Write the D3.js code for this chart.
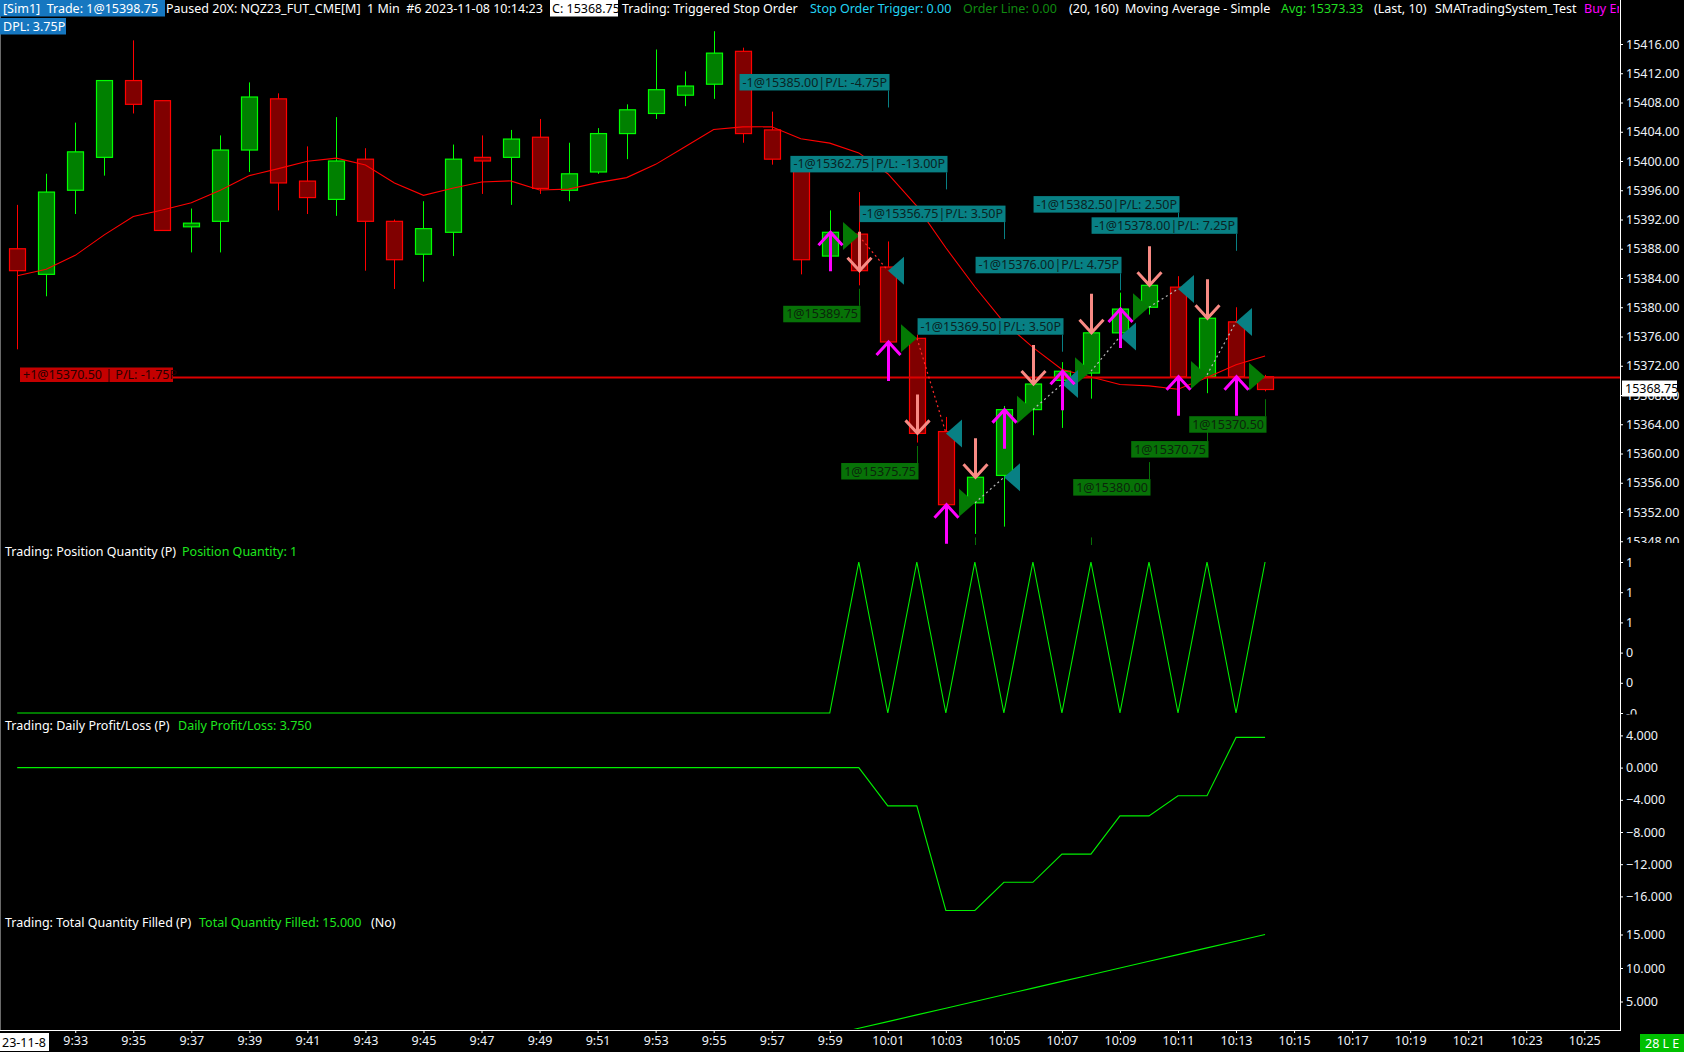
<!DOCTYPE html>
<html><head><meta charset="utf-8">
<script src="https://cdn.jsdelivr.net/npm/d3@7"></script>
<style>
html,body{margin:0;padding:0;background:#000;overflow:hidden}
svg{display:block}
text{font-family:"Noto Sans","DejaVu Sans",sans-serif;white-space:pre}
</style></head><body>
<svg id="c" width="1684" height="1052"></svg>
<script>
// ---------------- DATA ----------------
const times = ["9:31","9:32","9:33","9:34","9:35","9:36","9:37","9:38","9:39","9:40",
"9:41","9:42","9:43","9:44","9:45","9:46","9:47","9:48","9:49","9:50",
"9:51","9:52","9:53","9:54","9:55","9:56","9:57","9:58","9:59","10:00",
"10:01","10:02","10:03","10:04","10:05","10:06","10:07","10:08","10:09","10:10",
"10:11","10:12","10:13","10:14"];
const open = [15388.00,15384.50,15396.00,15400.50,15411.00,15408.25,15391.00,15391.75,15401.50,15408.50,
15397.25,15394.75,15400.25,15391.75,15387.25,15390.25,15400.50,15400.50,15403.25,15396.00,
15398.50,15403.75,15406.50,15409.00,15410.50,15415.00,15404.25,15400.00,15387.00,15390.00,
15385.50,15375.75,15363.00,15353.25,15357.00,15366.00,15370.00,15371.00,15376.50,15380.00,
15382.75,15370.50,15378.00,15370.50];
const high = [15394.00,15398.25,15405.25,15411.00,15416.50,15408.25,15393.50,15403.50,15410.75,15409.25,
15402.00,15406.00,15401.75,15392.00,15394.50,15402.25,15403.50,15404.25,15405.75,15402.50,
15404.50,15407.75,15415.25,15412.25,15417.75,15415.50,15406.75,15400.25,15393.25,15395.75,
15389.00,15376.25,15365.00,15357.50,15366.50,15371.00,15372.50,15377.50,15382.00,15384.50,
15384.25,15379.50,15380.00,15370.75];
const low = [15374.25,15381.50,15392.75,15398.00,15406.50,15390.50,15387.50,15387.50,15398.50,15393.25,
15392.75,15392.50,15385.00,15382.50,15383.50,15387.00,15395.50,15394.00,15395.50,15394.50,
15398.25,15400.25,15405.75,15407.50,15408.50,15402.50,15399.50,15384.50,15385.50,15383.00,
15374.50,15361.50,15351.50,15349.00,15350.00,15362.50,15363.50,15367.50,15375.50,15379.00,
15369.50,15368.25,15369.75,15368.50];
const close = [15385.00,15395.75,15401.25,15411.00,15407.75,15390.50,15391.50,15401.50,15408.75,15397.00,
15395.00,15400.00,15391.75,15386.50,15390.75,15400.25,15400.00,15403.00,15396.25,15398.25,
15403.75,15407.00,15409.75,15410.25,15414.75,15403.75,15400.25,15386.50,15390.25,15385.00,
15375.25,15362.75,15353.00,15356.75,15366.00,15369.50,15371.25,15376.50,15379.75,15383.00,
15370.50,15378.50,15370.50,15368.75];
const sma10 = [15384.30,15385.20,15387.10,15389.90,15392.40,15393.30,15394.30,15396.00,15398.00,15398.96,
15399.96,15400.39,15399.45,15397.00,15395.30,15396.28,15397.13,15397.28,15396.03,15396.15,
15397.04,15397.73,15399.54,15401.91,15404.31,15404.66,15404.68,15403.04,15402.44,15401.11,
15398.26,15393.83,15388.13,15382.80,15377.93,15374.52,15371.49,15370.47,15369.43,15369.25,
15368.78,15370.38,15372.14,15373.33];
const positionQty = [0,0,0,0,0,0,0,0,0,0, 0,0,0,0,0,0,0,0,0,0, 0,0,0,0,0,0,0,0,0,1, 0,1,0,1,0,1,0,1,0,1, 0,1,0,1];
const dailyPL = [0,0,0,0,0,0,0,0,0,0, 0,0,0,0,0,0,0,0,0,0, 0,0,0,0,0,0,0,0,0,0,
-4.75,-4.75,-17.75,-17.75,-14.25,-14.25,-10.75,-10.75,-6.00,-6.00,-3.50,-3.50,3.75,3.75];
const totalFilled = [0,0,0,0,0,0,0,0,0,0, 0,0,0,0,0,0,0,0,0,0, 0,0,0,0,0,0,0,0,0,1,
2,3,4,5,6,7,8,9,10,11,12,13,14,15];
const entryTimes = ["10:00","10:02","10:04","10:06","10:08","10:10","10:12","10:14"];
const entryPrices = [15389.75,15375.75,15353.25,15366.00,15371.25,15380.00,15370.75,15370.50];
const exitTimes = ["10:01","10:03","10:05","10:07","10:09","10:11","10:13"];
const exitPrices = [15385.00,15362.75,15356.75,15369.50,15376.00,15382.50,15378.00];
const exitPL = [-4.75,-13.00,3.50,3.50,4.75,2.50,7.25];
const buySignals = ["9:59","10:01","10:03","10:05","10:07","10:09","10:11","10:13"];
const sellSignals = ["10:00","10:02","10:04","10:06","10:08","10:10","10:12"];
const priceTicks = [15348,15352,15356,15360,15364,15368,15372,15376,15380,15384,15388,15392,15396,15400,15404,15408,15412,15416];
const qtyTickValues = [1.2,1.0,0.8,0.6,0.4,0.2,0];
const qtyTickLabels = ["1","1","1","1","0","0","-0"];
const plTicks = [4,0,-4,-8,-12,-16];
const filledTicks = [15,10,5];
const timeLabels = ["9:33","9:35","9:37","9:39","9:41","9:43","9:45","9:47","9:49","9:51","9:53","9:55","9:57","9:59",
"10:01","10:03","10:05","10:07","10:09","10:11","10:13","10:15","10:17","10:19","10:21","10:23","10:25"];
// label anchor levels (price units) for trade callouts
const exitLabelLevels = [15411.9,15400.7,15393.9,15378.5,15386.9,15395.2,15392.3];
const entryLabelLevels = [15380.2,15358.7,15346.2,15343.0,15346.2,15356.5,15361.7,15365.1];

// ---------------- LAYOUT ----------------
const svg = d3.select("#c");
const AXX = 1620;
function mins(t){const [h,m]=t.split(":").map(Number);return h*60+m-(9*60+31);}
const x = d3.scaleLinear().domain([0,54]).range([17.2,17.2+54*29.02]);
const bx = t => Math.round(x(mins(t)));
const yP = d3.scaleLinear().domain([15352,15416]).range([512,44]);
const yQ = d3.scaleLinear().domain([0,1]).range([713,562]);
const yL = d3.scaleLinear().domain([0,4]).range([767.6,735.4]);
const yF = d3.scaleLinear().domain([5,15]).range([1001.5,934.5]);

svg.append("rect").attr("width",1684).attr("height",1052).attr("fill","#000");
const defs = svg.append("defs");
function clip(id,x0,y0,w,h){defs.append("clipPath").attr("id",id).append("rect").attr("x",x0).attr("y",y0).attr("width",w).attr("height",h);}
clip("cP",0,0,AXX,545); clip("cQ",0,545,AXX,171); clip("cL",0,716,AXX,197); clip("cF",0,913,AXX,116);
clip("aP",AXX,28,64,515); clip("aQ",AXX,545,64,169.5); clip("aL",AXX,716,64,197); clip("aF",AXX,913,64,116);
clip("cH",0,0,AXX-1,40);

// ---------------- PRICE PANE ----------------
const gP = svg.append("g").attr("clip-path","url(#cP)");
const bars = times.map((t,i)=>({t,o:open[i],h:high[i],l:low[i],c:close[i],up:close[i]>open[i]}));
gP.selectAll("line.wick").data(bars).join("line").attr("class","wick")
  .attr("x1",d=>bx(d.t)+0.5).attr("x2",d=>bx(d.t)+0.5)
  .attr("y1",d=>yP(d.h)).attr("y2",d=>yP(d.l))
  .attr("stroke",d=>d.up?"#00ff00":"#ff0000").attr("stroke-width",1);
gP.selectAll("rect.body").data(bars).join("rect").attr("class","body")
  .attr("x",d=>bx(d.t)-7.5).attr("width",16)
  .attr("y",d=>yP(Math.max(d.o,d.c)))
  .attr("height",d=>Math.max(2,Math.abs(yP(d.o)-yP(d.c))))
  .attr("fill",d=>d.up?"#008000":"#800000")
  .attr("stroke",d=>d.up?"#00ff00":"#ff0000").attr("stroke-width",1.2);

// moving average
gP.append("path").datum(sma10)
  .attr("d",d3.line().x((v,i)=>x(mins(times[i]))).y(v=>yP(v)))
  .attr("fill","none").attr("stroke","#ff0000").attr("stroke-width",1.1);

// position line
const posY = Math.round(yP(entryPrices[entryPrices.length-1]))+0.5;
gP.append("line").attr("x1",173).attr("x2",AXX).attr("y1",posY).attr("y2",posY)
  .attr("stroke","#dd0000").attr("stroke-width",2);

// entry-exit dotted lines
exitTimes.forEach((t,k)=>{
  gP.append("line")
    .attr("x1",bx(entryTimes[k])).attr("y1",yP(entryPrices[k]))
    .attr("x2",bx(t)).attr("y2",yP(exitPrices[k]))
    .attr("stroke",exitPL[k]<0?"#ff2a2a":"#b8b8b8").attr("stroke-width",1.2)
    .attr("stroke-dasharray","2,3");
});

// fill triangles
entryTimes.forEach((t,k)=>{
  const X=bx(t), Y=yP(entryPrices[k]);
  gP.append("path").attr("d",`M${X},${Y}L${X-16},${Y-14}L${X-16},${Y+14}Z`).attr("fill","#047a04");
});
exitTimes.forEach((t,k)=>{
  const X=bx(t), Y=yP(exitPrices[k]);
  gP.append("path").attr("d",`M${X},${Y}L${X+16},${Y-14}L${X+16},${Y+14}Z`).attr("fill","#088084");
});

// signal arrows
const closeAt = t => close[times.indexOf(t)];
buySignals.forEach(t=>{
  const X=bx(t)+0.5, Y=yP(closeAt(t));
  gP.append("path").attr("d",`M${X},${Y+39}L${X},${Y}M${X-12},${Y+13}L${X},${Y}L${X+12},${Y+13}`)
    .attr("fill","none").attr("stroke","#ff00ff").attr("stroke-width",3);
});
sellSignals.forEach(t=>{
  const X=bx(t)+0.5, Y=yP(closeAt(t));
  gP.append("path").attr("d",`M${X},${Y-39}L${X},${Y}M${X-12},${Y-13}L${X},${Y}L${X+12},${Y-13}`)
    .attr("fill","none").attr("stroke","#f88a84").attr("stroke-width",3);
});

// callout labels
function callout(g,X,top,txt,bg,fg,connDown){
  const grp=g.append("g");
  const r=grp.append("rect");
  const tx=grp.append("text").attr("x",X-1).attr("y",top+12.6).attr("text-anchor","end")
     .attr("font-size","12.5px").attr("fill",fg).text(txt);
  const bb=tx.node().getBBox();
  r.attr("x",bb.x-3).attr("y",top).attr("width",X+1.5-(bb.x-3)).attr("height",16.5).attr("fill",bg);
  if(connDown) grp.append("line").attr("x1",X+0.5).attr("x2",X+0.5).attr("y1",top+16.5).attr("y2",top+33.5).attr("stroke",bg);
  else grp.append("line").attr("x1",X+0.5).attr("x2",X+0.5).attr("y1",top-17).attr("y2",top).attr("stroke",bg);
}
entryTimes.forEach((t,k)=>{
  callout(gP,bx(t),yP(entryLabelLevels[k]),"1@"+entryPrices[k].toFixed(2),"#077207","#0b250b",false);
});
exitTimes.forEach((t,k)=>{
  callout(gP,bx(t),yP(exitLabelLevels[k]),"-1@"+exitPrices[k].toFixed(2)+"|P/L: "+exitPL[k].toFixed(2)+"P","#088084","#0a2323",true);
});

// position label
gP.append("rect").attr("x",20).attr("y",367.5).attr("width",153).attr("height",14.5).attr("fill","#c40000");
gP.append("text").attr("x",23).attr("y",379).attr("font-size","12.5px").attr("fill","#2a0000")
  .text("+1@15370.50 | P/L: -1.75P");

// ---------------- SUB PANES ----------------
const lineOf = (arr,ys)=>d3.line().x((v,i)=>x(mins(times[i]))).y(v=>ys(v))(arr);
svg.append("g").attr("clip-path","url(#cQ)").append("path").attr("d",lineOf(positionQty,yQ))
  .attr("fill","none").attr("stroke","#00f000").attr("stroke-width",1.1);
svg.append("g").attr("clip-path","url(#cL)").append("path").attr("d",lineOf(dailyPL,yL))
  .attr("fill","none").attr("stroke","#00f000").attr("stroke-width",1.1);
svg.append("g").attr("clip-path","url(#cF)").append("path").attr("d",lineOf(totalFilled,yF))
  .attr("fill","none").attr("stroke","#00f000").attr("stroke-width",1.1);

function paneLabel(y,a,b,bx2,extra,ex){
  svg.append("text").attr("x",5).attr("y",y).attr("font-size","12.5px").attr("fill","#fff").text(a);
  svg.append("text").attr("x",bx2).attr("y",y).attr("font-size","12.5px").attr("fill","#1ee61e").text(b);
  if(extra) svg.append("text").attr("x",ex).attr("y",y).attr("font-size","12.5px").attr("fill","#fff").text(extra);
}
paneLabel(556,"Trading: Position Quantity (P)","Position Quantity: 1",182);
paneLabel(730,"Trading: Daily Profit/Loss (P)","Daily Profit/Loss: 3.750",178);
paneLabel(927,"Trading: Total Quantity Filled (P)","Total Quantity Filled: 15.000",199,"(No)",371);

// ---------------- AXES ----------------
function styleAxis(g){
  g.select(".domain").remove();
  g.selectAll(".tick line").attr("stroke","#fff");
  g.selectAll(".tick text").attr("fill","#eef2f8").attr("font-size","12.5px")
   .attr("font-family","'Noto Sans','DejaVu Sans',sans-serif");
}
svg.append("g").attr("clip-path","url(#aP)").append("g").attr("transform",`translate(${AXX},0)`)
  .call(d3.axisRight(yP).tickValues(priceTicks).tickFormat(d3.format(".2f")).tickSize(3).tickPadding(3)).call(styleAxis);
svg.append("g").attr("clip-path","url(#aQ)").append("g").attr("transform",`translate(${AXX},0)`)
  .call(d3.axisRight(yQ).tickValues(qtyTickValues).tickFormat((d,i)=>qtyTickLabels[i]).tickSize(3).tickPadding(3)).call(styleAxis);
svg.append("g").attr("clip-path","url(#aL)").append("g").attr("transform",`translate(${AXX},0)`)
  .call(d3.axisRight(yL).tickValues(plTicks).tickFormat(d3.format(".3f")).tickSize(3).tickPadding(3)).call(styleAxis);
svg.append("g").attr("clip-path","url(#aF)").append("g").attr("transform",`translate(${AXX},0)`)
  .call(d3.axisRight(yF).tickValues(filledTicks).tickFormat(d3.format(".3f")).tickSize(3).tickPadding(3)).call(styleAxis);

// current price marker
const cpY = yP(close[close.length-1]);
svg.append("rect").attr("x",1622).attr("y",cpY-9).attr("width",55).attr("height",16).attr("fill","#fff");
svg.append("text").attr("x",1625).attr("y",cpY+3.5).attr("font-size","12.5px").attr("fill","#000")
  .text(d3.format(".2f")(close[close.length-1]));

// time axis
svg.append("g").attr("transform","translate(0,1030)")
  .call(d3.axisBottom(x).tickValues(timeLabels.map(mins)).tickFormat((d,i)=>timeLabels[i]).tickSize(3).tickPadding(3))
  .call(styleAxis);

// frame lines
svg.append("line").attr("x1",AXX+0.5).attr("x2",AXX+0.5).attr("y1",0).attr("y2",1031).attr("stroke","#fff");
svg.append("line").attr("x1",0).attr("x2",AXX+1).attr("y1",1030.5).attr("y2",1030.5).attr("stroke","#fff");
svg.append("line").attr("x1",0.5).attr("x2",0.5).attr("y1",0).attr("y2",1030).attr("stroke","#6a6a6a");

// date box + status box
svg.append("rect").attr("x",0).attr("y",1033).attr("width",49).attr("height",18).attr("fill","#fff");
svg.append("text").attr("x",2).attr("y",1047).attr("font-size","12.5px").attr("fill","#000").text("23-11-8");
svg.append("rect").attr("x",1640).attr("y",1034).attr("width",44).attr("height",18).attr("fill","#00c000");
svg.append("text").attr("x",1645).attr("y",1048).attr("font-size","12.5px").attr("fill","#fff").text("28 L E");

// ---------------- HEADER ----------------
const gH = svg.append("g").attr("clip-path","url(#cH)");
gH.append("rect").attr("x",0).attr("y",0).attr("width",165).attr("height",16.5).attr("fill","#1677c0");
gH.append("rect").attr("x",550).attr("y",0).attr("width",68).attr("height",16.5).attr("fill","#fff");
gH.append("rect").attr("x",0).attr("y",18).attr("width",66).attr("height",16.5).attr("fill","#1677c0");
const headerRow = [
 ["[Sim1]  Trade: 1@15398.75",3,"#fff"],
 ["Paused 20X: NQZ23_FUT_CME[M]  1 Min  #6 2023-11-08 10:14:23",166,"#fff"],
 ["C: 15368.75",552,"#000"],
 ["Trading: Triggered Stop Order",622,"#fff"],
 ["Stop Order Trigger: 0.00",810,"#22d3f2"],
 ["Order Line: 0.00",963,"#108a10"],
 ["(20, 160)",1069,"#fff"],
 ["Moving Average - Simple",1125,"#fff"],
 ["Avg: 15373.33",1281,"#22dd22"],
 ["(Last, 10)",1374,"#fff"],
 ["SMATradingSystem_Test",1435,"#fff"],
 ["Buy Entry",1584,"#ff00ff"]
];
headerRow.forEach(([t,xx,c])=>gH.append("text").attr("x",xx).attr("y",12.8).attr("font-size","12.5px").attr("fill",c).text(t));
gH.append("text").attr("x",3).attr("y",30.8).attr("font-size","12.5px").attr("fill","#fff").text("DPL: 3.75P");
</script>
</body></html>
